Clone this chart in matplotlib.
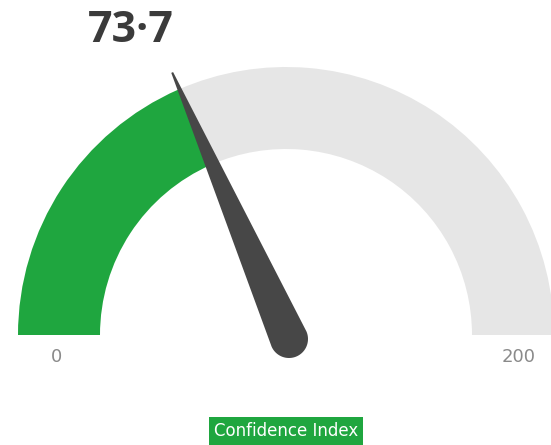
import numpy as np
import matplotlib
matplotlib.use("Agg")
import matplotlib.pyplot as plt
from matplotlib.patches import Wedge, Polygon

# gauge data
value = 73.7
gauge_min = 0
gauge_max = 200
value_label = "73·7"
min_label = "0"
max_label = "200"
gauge_title = "Confidence Index"

green = "#1fa63f"
track = "#e6e6e6"
needle_col = "#474747"

fig = plt.figure(figsize=(5.51, 4.45), dpi=100)
ax = fig.add_axes([0, 0, 1, 1])
ax.set_xlim(0, 551)
ax.set_ylim(0, 445)
ax.set_aspect("equal")
ax.axis("off")

cx, cy = 286, 110
r_out, band = 268, 82

frac = (value - gauge_min) / (gauge_max - gauge_min)
ang = 180 - frac * 180

ax.add_patch(Wedge((cx, cy), r_out, 0, ang, width=band, color=track, lw=0))
ax.add_patch(Wedge((cx, cy), r_out, ang, 180, width=band, color=green, lw=0))

# needle: thin tip, rounded wide base
p = np.array([289.0, 106.0])
t = np.deg2rad(ang)
d = np.array([np.cos(t), np.sin(t)])
n = np.array([-d[1], d[0]])
tip_len, base_r, tip_w = 291, 19, 1.0
pts = [p + d * tip_len + n * tip_w, p + d * tip_len - n * tip_w]
for a in np.linspace(np.pi, 0, 40):
    pts.append(p + base_r * (np.cos(a) * n - np.sin(a) * d))
ax.add_patch(Polygon(pts, closed=True, color=needle_col, lw=0))

ax.text(131, 414, value_label, ha="center", va="center", fontsize=31,
        fontweight="bold", color="#3b3b3b", family="Open Sans")
ax.text(56, 88, min_label, ha="center", va="center", fontsize=13,
        color="#8a8a8a")
ax.text(519, 88, max_label, ha="center", va="center", fontsize=13,
        color="#8a8a8a")
ax.text(286, 14, gauge_title, ha="center", va="center", fontsize=12,
        color="white",
        bbox=dict(boxstyle="square,pad=0.3", fc=green, ec="none"))

fig.savefig("out.png", dpi=100)
